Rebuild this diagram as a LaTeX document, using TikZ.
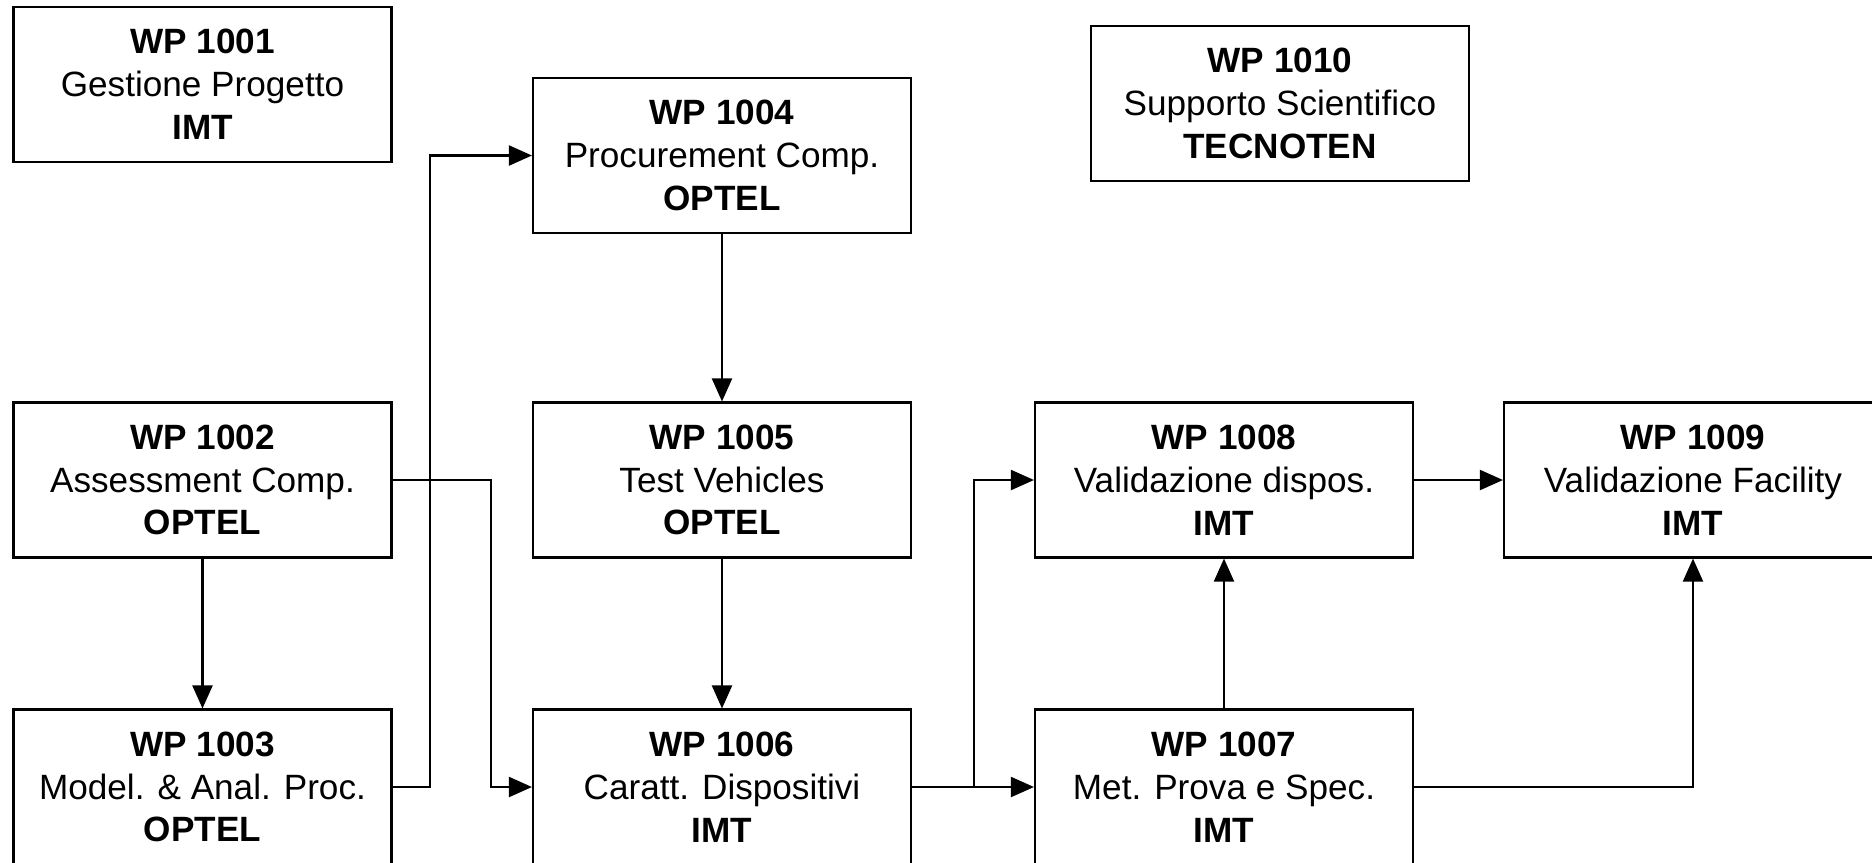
\documentclass[tikz,border=0pt]{standalone}
\usepackage{fontspec}
\setmainfont{Liberation Sans}
\usetikzlibrary{arrows.meta, positioning}

\begin{document}
\begin{tikzpicture}[
        wpbox/.style={draw, line width=0.6pt, fill=white, minimum width=3.78cm, minimum height=1.55cm,
            inner sep=0pt, align=center, font=\fontsize{10pt}{12.2pt}\selectfont},
        arr/.style={line width=0.6pt, -{Triangle[length=2.3mm, width=2mm]}}
    ]
        \useasboundingbox (0,0) rectangle (18.72,-8.62);
        \clip (0,0) rectangle (18.72,-8.62);

        % Top row
        \node[wpbox] (wp1001) at (2.025,-0.845) {\textbf{WP 1001}\\Gestione Progetto\\\textbf{IMT}};
        \node[wpbox] (wp1004) at (7.22,-1.555) {\textbf{WP 1004}\\Procurement Comp.\\\textbf{OPTEL}};
        \node[wpbox] (wp1010) at (12.80,-1.035) {\textbf{WP 1010}\\Supporto Scientifico\\\textbf{TECNOTEN}};

        % Middle row
        \node[wpbox] (wp1002) at (2.025,-4.80) {\textbf{WP 1002}\\Assessment Comp.\\\textbf{OPTEL}};
        \node[wpbox] (wp1005) at (7.22,-4.80) {\textbf{WP 1005}\\Test Vehicles\\\textbf{OPTEL}};
        \node[wpbox] (wp1008) at (12.24,-4.80) {\textbf{WP 1008}\\Validazione dispos.\\\textbf{IMT}};
        \node[wpbox] (wp1009) at (16.93,-4.80) {\textbf{WP 1009}\\Validazione Facility\\\textbf{IMT}};

        % Bottom row (cut by the page edge)
        \node[wpbox] (wp1003) at (2.025,-7.87) {\textbf{WP 1003}\\Model. \& Anal. Proc.\\\textbf{OPTEL}};
        \node[wpbox] (wp1006) at (7.22,-7.87) {\textbf{WP 1006}\\Caratt. Dispositivi\\\textbf{IMT}};
        \node[wpbox] (wp1007) at (12.24,-7.87) {\textbf{WP 1007}\\Met. Prova e Spec.\\\textbf{IMT}};

        % Straight links
        \draw[arr] (wp1002) -- (wp1003);
        \draw[arr] (wp1004) -- (wp1005);
        \draw[arr] (wp1005) -- (wp1006);
        \draw[arr] (wp1006) -- (wp1007);
        \draw[arr] (wp1007) -- (wp1008);
        \draw[arr] (wp1008) -- (wp1009);

        % Elbow links
        \draw[arr] (wp1003.east) -- ++(0.37,0) |- (wp1004.west);
        \draw[arr] (wp1002.east) -- ++(0.98,0) |- (wp1006.west);
        \draw[arr] (wp1006.east) -- ++(0.62,0) |- (wp1008.west);
        \draw[arr] (wp1007.east) -| (wp1009.south);
\end{tikzpicture}
\end{document}
